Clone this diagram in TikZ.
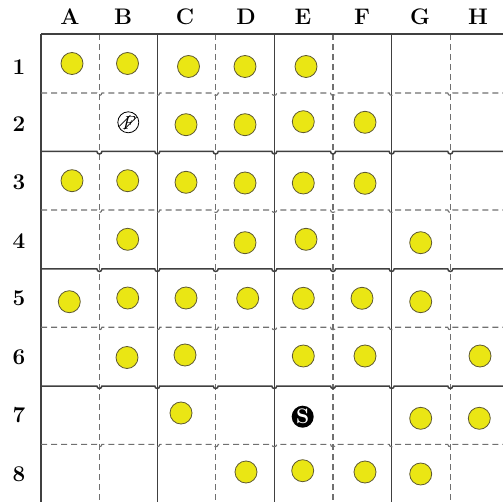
\documentclass[tikz,border=0pt]{standalone}
\usetikzlibrary{calc}
\definecolor{stonefill}{RGB}{234,230,20}
\definecolor{stoneedge}{RGB}{95,90,50}
\definecolor{solidgrid}{RGB}{64,64,64}
\definecolor{dashgrid}{RGB}{112,112,112}
\tikzset{
  solidline/.style={draw=solidgrid,line width=1.5pt},
  dashline/.style={draw=dashgrid,line width=1.1pt,dash pattern=on 6pt off 4pt},
  stone/.style={circle,draw=stoneedge,line width=0.8pt,fill=stonefill,minimum size=22pt,inner sep=0pt},
  lbl/.style={font=\fontsize{22.5}{26}\selectfont\bfseries,inner sep=0pt},
  ssym/.style={circle,fill=black,minimum size=22pt,inner sep=0pt,text=white,font=\fontsize{21}{22}\selectfont\bfseries},
  fsym/.style={circle,draw=black,line width=0.8pt,minimum size=21pt,inner sep=0pt}
}
\begin{document}
\begin{tikzpicture}[x=1pt,y=-1pt]
\useasboundingbox (0,0) rectangle (503,502);
% vertical lines
\foreach \x/\s in {41/solidline,99.4/dashline,157.3/solidline,215.7/dashline,274.3/solidline,333/dashline,391.7/solidline,450.3/dashline}
  \draw[\s] (\x,34) -- (\x,502);
% horizontal lines with hop bumps
\draw[solidline] (41,34) -- (503,34);
\foreach \y/\s in {93/dashline,151.5/solidline,210/dashline,269/solidline,327.3/dashline,386/solidline,444.3/dashline}
  \draw[\s] (41,\y) \foreach \x in {99.4,157.3,215.7,274.3,333,391.7,450.3} { -- (\x-2.5,\y) arc[start angle=180,end angle=0,radius=2.5] } -- (503,\y);
% column labels
\foreach \c/\x in {A/70,B/123,C/185,D/246,E/303,F/362,G/420,H/478}
  \node[lbl] (col\c) at (\x,17) {\c};
% row labels
\foreach \r/\y in {1/67,2/124,3/182,4/241,5/298,6/357,7/415,8/474}
  \node[lbl] (row\r) at (19,\y) {\r};
% stones
\node[stone] (a1) at (72,63.5) {};
\node[stone] (b1) at (127.5,63.5) {};
\node[stone] (c1) at (188.5,66.5) {};
\node[stone] (d1) at (245,66.5) {};
\node[stone] (e1) at (306,66.5) {};
\node[stone] (c2) at (186,124.7) {};
\node[stone] (d2) at (245,124.7) {};
\node[stone] (e2) at (303.3,121.7) {};
\node[stone] (f2) at (365,122.3) {};
\node[stone] (a3) at (72,180.7) {};
\node[stone] (b3) at (127.7,180.7) {};
\node[stone] (c3) at (186,182.3) {};
\node[stone] (d3) at (245,183) {};
\node[stone] (e3) at (303.3,183) {};
\node[stone] (f3) at (365,183.3) {};
\node[stone] (b4) at (127.7,239.3) {};
\node[stone] (d4) at (245,242.7) {};
\node[stone] (e4) at (306,239.3) {};
\node[stone] (g4) at (420.7,242.7) {};
\node[stone] (a5) at (69.3,301.7) {};
\node[stone] (b5) at (127.7,298) {};
\node[stone] (c5) at (186,298) {};
\node[stone] (d5) at (247.7,298.3) {};
\node[stone] (e5) at (303.3,298.3) {};
\node[stone] (f5) at (362,298.3) {};
\node[stone] (g5) at (420.7,301.7) {};
\node[stone] (b6) at (127,357.5) {};
\node[stone] (c6) at (185,355) {};
\node[stone] (e6) at (303.3,356) {};
\node[stone] (f6) at (365,356) {};
\node[stone] (h6) at (480,356) {};
\node[stone] (c7) at (181,413) {};
\node[stone] (g7) at (420.7,418.3) {};
\node[stone] (h7) at (479.3,418.3) {};
\node[stone] (d8) at (246,472) {};
\node[stone] (e8) at (302.7,470.7) {};
\node[stone] (f8) at (365,472) {};
\node[stone] (g8) at (420.7,474) {};
% special symbols
\node[fsym] (fmark) at (128.3,122.3) {};
\begin{scope}
  \clip (fmark.center) circle (10pt);
  \foreach \d in {-5,3}
    \draw[line width=0.6pt] ($(fmark.center)+(\d-7,7)$) -- ($(fmark.center)+(\d+7,-7)$);
\end{scope}
\node[font=\fontsize{19}{20}\selectfont\itshape,inner sep=0pt] (ftext) at ($(fmark.center)+(-0.5,0.5)$) {F};
\node[ssym] (smark) at (302.7,416.7) {S};
\end{tikzpicture}
\end{document}
